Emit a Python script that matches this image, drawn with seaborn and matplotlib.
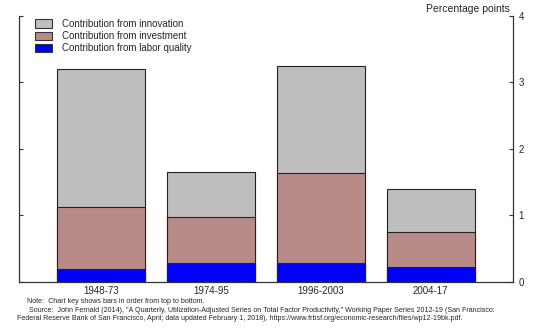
import matplotlib
matplotlib.use("Agg")
import matplotlib.pyplot as plt
from matplotlib.patches import Patch
import seaborn as sns
import numpy as np
import pandas as pd

periods = ["1948-73", "1974-95", "1996-2003", "2004-17"]
labor_quality = [0.19, 0.28, 0.28, 0.22]
investment = [0.94, 0.69, 1.35, 0.53]
innovation = [2.07, 0.68, 1.62, 0.65]
series_labels = ["Contribution from innovation", "Contribution from investment",
                 "Contribution from labor quality"]
y_ticks = [0, 1, 2, 3, 4]

sns.set_theme(style="white")
plt.rcParams['font.family'] = ['Liberation Sans', 'DejaVu Sans']

c_innov = "#BEBEBE"
c_inv = "#B98B88"
c_lab = "#0000FF"

lab = np.array(labor_quality)
inv_cum = lab + np.array(investment)
tot = inv_cum + np.array(innovation)

df = pd.DataFrame({"period": periods, "lab": lab, "inv": inv_cum, "tot": tot})

fig = plt.figure(figsize=(5.5, 3.32), dpi=100)
ax = fig.add_axes([0.0345, 0.152, 0.8982, 0.8])

for col, color in [("tot", c_innov), ("inv", c_inv), ("lab", c_lab)]:
    sns.barplot(data=df, x="period", y=col, color=color, saturation=1,
                edgecolor="#222222", linewidth=0.8, width=0.8, ax=ax)

ax.set_xlim(-0.75, 3.75)
ax.set_ylim(0, 4)
ax.set_xlabel("")
ax.set_ylabel("")
ax.set_yticks(y_ticks)
ax.set_yticklabels([str(t) for t in y_ticks])
ax.tick_params(axis="y", which="both", direction="in", length=3, width=0.8,
               left=True, right=True, labelleft=False, labelright=True,
               labelsize=7, pad=4, color="#333333")
ax.tick_params(axis="x", length=0, labelsize=7, pad=3)
for s in ["left", "right", "bottom"]:
    ax.spines[s].set_visible(True)
    ax.spines[s].set_color("#333333")
    ax.spines[s].set_linewidth(0.9)
ax.spines["top"].set_visible(False)

handles = [Patch(facecolor=c_innov, edgecolor="#333333", linewidth=0.8),
           Patch(facecolor=c_inv, edgecolor="#333333", linewidth=0.8),
           Patch(facecolor=c_lab, edgecolor="#333333", linewidth=0.8)]
ax.legend(handles, series_labels, loc="upper left", bbox_to_anchor=(0.02, 1.01),
          frameon=False, fontsize=7, handlelength=1.8, handleheight=1.0,
          labelspacing=0.22, handletextpad=1.0, borderaxespad=0.2)

fig.text(0.927, 0.972, "Percentage points", ha="right", va="center", fontsize=7.5)

fig.text(0.049, 0.093, "Note:  Chart key shows bars in order from top to bottom.",
         ha="left", va="center", fontsize=5.15)
fig.text(0.053, 0.066, "Source:  John Fernald (2014), \"A Quarterly, Utilization-Adjusted Series on Total Factor Productivity,\" Working Paper Series 2012-19 (San Francisco:",
         ha="left", va="center", fontsize=5.15)
fig.text(0.031, 0.042, "Federal Reserve Bank of San Francisco, April; data updated February 1, 2018), https://www.frbsf.org/economic-research/files/wp12-19bk.pdf.",
         ha="left", va="center", fontsize=5.15)

fig.savefig("out.png", dpi=100)
